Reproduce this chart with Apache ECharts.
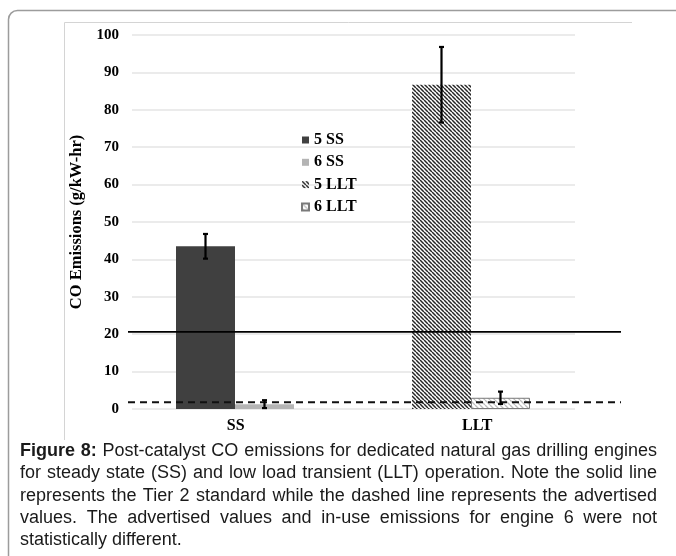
<!DOCTYPE html>
<html><head><meta charset="utf-8">
<script src="https://cdn.jsdelivr.net/npm/echarts@6/dist/echarts.min.js"></script>
<style>html,body{margin:0;padding:0;background:#fff}#c{width:676px;height:556px}</style>
</head><body><div id="c"></div>
<script>
// ---------- data ----------
const categories = ['SS', 'LLT'];
const seriesNames = ['5 SS', '6 SS', '5 LLT', '6 LLT'];
const engine5SS = [43.5, '-'];
const engine6SS = [1.3, '-'];
const engine5LLT = ['-', 86.7];
const engine6LLT = ['-', 3.0];
const err5SS = [3.3, '-'];
const err6SS = [1.05, '-'];
const err5LLT = ['-', 10.1];
const err6LLT = ['-', 1.65];
const tier2Standard = 20.6;
const advertisedValue = 1.8;
const yMin = 0, yMax = 100, yStep = 10;
const yAxisTitle = 'CO Emissions (g/kW-hr)';
const captionBold = 'Figure 8:';
const captionLines = [
  'Figure 8: Post-catalyst CO emissions for dedicated natural gas drilling engines',
  'for steady state (SS) and low load transient (LLT) operation. Note the solid line',
  'represents the Tier 2 standard while the dashed line represents the advertised',
  'values. The advertised values and in-use emissions for engine 6 were not',
  'statistically different.'
];

// ---------- styles ----------
const SERIF = '"Liberation Serif", "Times New Roman", serif';
const SANS = '"Liberation Sans", Arial, sans-serif';
const BAR_W = 59;

function hatch(size, lineColor, lw, bg) {
  const c = document.createElement('canvas');
  c.width = size; c.height = size;
  const ctx = c.getContext('2d');
  ctx.fillStyle = bg; ctx.fillRect(0, 0, size, size);
  ctx.strokeStyle = lineColor; ctx.lineWidth = lw;
  ctx.beginPath();
  for (let k = -1; k <= 1; k++) { ctx.moveTo(k * size, 0); ctx.lineTo(k * size + size, size); }
  ctx.stroke();
  return c;
}
const hatchDark = { image: hatch(4, '#262626', 1.5, '#ffffff'), repeat: 'repeat' };
const hatchLight = { image: hatch(5, '#bdbdbd', 1.3, '#ffffff'), repeat: 'repeat' };

// error-bar data: [category index, mean, err, side(-1 left / +1 right)]
function errData(vals, errs, side) {
  const out = [];
  vals.forEach((v, i) => { if (v !== '-' && errs[i] !== '-') out.push([i, v, errs[i], side]); });
  return out;
}
const errorBarData = [].concat(
  errData(engine5SS, err5SS, -1), errData(engine6SS, err6SS, 1),
  errData(engine5LLT, err5LLT, -1), errData(engine6LLT, err6LLT, 1));

// ---------- caption (condensed + justified) ----------
const capCtx = document.createElement('canvas').getContext('2d');
const CAP_SIZE = 18, CAP_LEFT = 20, CAP_RIGHT = 657, CAP_TOP = 451, CAP_LH = 22.3;
function measure(w, bold) {
  capCtx.font = (bold ? 'bold ' : '') + CAP_SIZE + 'px ' + SANS;
  return capCtx.measureText(w).width;
}
const boldCount = captionBold.split(' ').length;
const lineItems = captionLines.map((line, li) => line.split(' ').map((w, wi) => {
  const bold = li === 0 && wi < boldCount;
  return { w, bold, width: measure(w, bold) };
}));
const spaceW = measure(' ', false);
// horizontal condensing so the first line, with normal spaces, spans the text block
const firstNatural = lineItems[0].reduce((s, it) => s + it.width, 0) + spaceW * (lineItems[0].length - 1);
const CAP_SX = Math.min(1, (CAP_RIGHT - CAP_LEFT) / firstNatural);
const captionGraphics = [];
lineItems.forEach((items, li) => {
  const total = items.reduce((s, it) => s + it.width * CAP_SX, 0);
  const last = li === lineItems.length - 1;
  const gap = last ? spaceW * CAP_SX : (CAP_RIGHT - CAP_LEFT - total) / (items.length - 1);
  let x = CAP_LEFT;
  items.forEach(it => {
    captionGraphics.push({
      type: 'text', x: x, y: CAP_TOP + li * CAP_LH, scaleX: CAP_SX, silent: true,
      style: { text: it.w, x: 0, y: 0, fontSize: CAP_SIZE, fontFamily: SANS, fontWeight: it.bold ? 'bold' : 'normal',
               fill: '#1a1a1a', verticalAlign: 'middle', align: 'left' }
    });
    x += it.width * CAP_SX + gap;
  });
});

const chart = echarts.init(document.getElementById('c'), null, { renderer: 'canvas' });
const labelFont = { fontFamily: SERIF, fontWeight: 'bold', fontSize: 15, color: '#000' };

chart.setOption({
  animation: false,
  backgroundColor: '#fff',
  grid: [
    { left: 132, right: 101, top: 35, bottom: 147 },   // gridlines + y labels
    { left: 117, right: 87, top: 35, bottom: 147 },    // bars
    { left: 115, right: 78, top: 35, bottom: 147 },    // category labels
    { left: 128, right: 55, top: 35, bottom: 147 }     // reference lines
  ],
  xAxis: [
    { gridIndex: 0, type: 'category', data: categories, show: false },
    { gridIndex: 1, type: 'category', data: categories, show: false },
    { gridIndex: 2, type: 'category', data: categories, axisLine: { show: false }, axisTick: { show: false },
      axisLabel: { margin: 9, fontFamily: SERIF, fontWeight: 'bold', fontSize: 16, color: '#000' } },
    { gridIndex: 3, type: 'value', min: 0, max: 1, show: false }
  ],
  yAxis: [
    { gridIndex: 0, type: 'value', min: yMin, max: yMax, interval: yStep,
      axisLine: { show: false }, axisTick: { show: false },
      axisLabel: Object.assign({ margin: 13 }, labelFont),
      splitLine: { lineStyle: { color: '#e4e4e4', width: 1.5 } },
      name: yAxisTitle, nameLocation: 'middle', nameGap: 41,
      nameTextStyle: { fontFamily: SERIF, fontWeight: 'bold', fontSize: 16.5, color: '#000' } },
    { gridIndex: 1, type: 'value', min: yMin, max: yMax, show: false },
    { gridIndex: 2, type: 'value', min: yMin, max: yMax, show: false },
    { gridIndex: 3, type: 'value', min: yMin, max: yMax, show: false }
  ],
  legend: {
    data: seriesNames, orient: 'vertical', left: 296, top: 127,
    itemWidth: 7, itemHeight: 7, itemGap: 6.3, icon: 'rect',
    textStyle: { fontFamily: SERIF, fontWeight: 'bold', fontSize: 16, color: '#000', lineHeight: 16 }
  },
  series: [
    { name: '5 SS', type: 'bar', xAxisIndex: 1, yAxisIndex: 1, stack: 'e5', data: engine5SS,
      barWidth: BAR_W, barGap: '0%', itemStyle: { color: '#404040' }, z: 2 },
    { name: '6 SS', type: 'bar', xAxisIndex: 1, yAxisIndex: 1, stack: 'e6', data: engine6SS,
      barWidth: BAR_W, barGap: '0%', itemStyle: { color: '#b4b4b4' }, z: 2 },
    { name: '5 LLT', type: 'bar', xAxisIndex: 1, yAxisIndex: 1, stack: 'e5', data: engine5LLT,
      barWidth: BAR_W, barGap: '0%', itemStyle: { color: hatchDark }, z: 2 },
    { name: '6 LLT', type: 'bar', xAxisIndex: 1, yAxisIndex: 1, stack: 'e6', data: engine6LLT,
      barWidth: BAR_W, barGap: '0%', itemStyle: { color: hatchLight, borderColor: '#7a7a7a', borderWidth: 1 }, z: 2 },
    { name: 'Tier 2', type: 'line', xAxisIndex: 3, yAxisIndex: 3, silent: true, symbol: 'none', z: 3,
      data: [[0, tier2Standard], [1, tier2Standard]], lineStyle: { color: '#000', width: 1.8 } },
    { name: 'Advertised', type: 'line', xAxisIndex: 3, yAxisIndex: 3, silent: true, symbol: 'none', z: 3,
      data: [[0, advertisedValue], [1, advertisedValue]], lineStyle: { color: '#111', width: 2, type: [7, 5] } },
    { name: 'err', type: 'custom', xAxisIndex: 1, yAxisIndex: 1, silent: true, z: 4,
      data: errorBarData,
      renderItem: function (params, api) {
        const i = api.value(0), m = api.value(1), e = api.value(2), side = api.value(3);
        const x = api.coord([i, m])[0] + side * BAR_W / 2;
        const yT = api.coord([i, m + e])[1], yB = api.coord([i, m - e])[1];
        const st = { stroke: '#000', lineWidth: 2.2 };
        return { type: 'group', children: [
          { type: 'line', shape: { x1: x, y1: yT, x2: x, y2: yB }, style: st },
          { type: 'line', shape: { x1: x - 2.5, y1: yT, x2: x + 2.5, y2: yT }, style: st },
          { type: 'line', shape: { x1: x - 2.5, y1: yB, x2: x + 2.5, y2: yB }, style: st }
        ] };
      } }
  ],
  graphic: [
    { type: 'rect', silent: true, z: -10, shape: { x: 8.5, y: 10.5, width: 720, height: 620, r: 9 },
      style: { fill: 'none', stroke: '#9c9c9c', lineWidth: 1.5 } },
    { type: 'polyline', silent: true, z: -10, shape: { points: [[64.5, 440], [64.5, 22.5], [632, 22.5]] },
      style: { fill: 'none', stroke: '#d4d4d4', lineWidth: 1 } }
  ].concat(captionGraphics)
});
</script>
</body></html>
